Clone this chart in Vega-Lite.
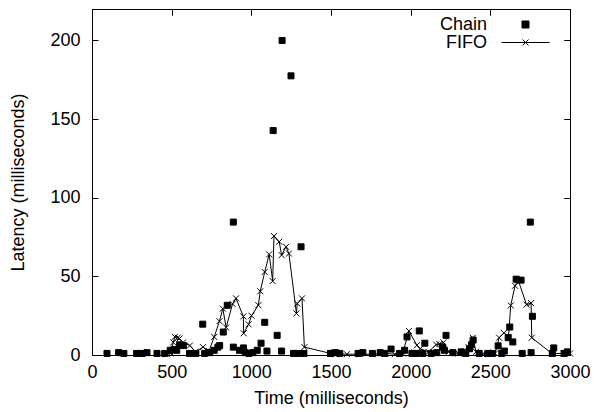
{
  "$schema": "https://vega.github.io/schema/vega-lite/v6.json",
  "width": 478,
  "height": 346,
  "autosize": "none",
  "padding": {"left": 92, "top": 9, "right": 24, "bottom": 57},
  "background": "white",
  "config": {
    "font": "Liberation Sans",
    "view": {"stroke": "black", "strokeWidth": 1},
    "axis": {
      "grid": false,
      "domainColor": "black",
      "tickColor": "black",
      "labelColor": "black",
      "titleColor": "black",
      "labelFont": "Liberation Sans",
      "titleFont": "Liberation Sans",
      "labelFontSize": 18,
      "titleFontSize": 18,
      "titleFontWeight": "normal",
      "labelFlush": false,
      "tickSize": -6
    },
    "legend": {
      "title": null,
      "orient": "none",
      "padding": 0,
      "rowPadding": 0,
      "labelFont": "Liberation Sans",
      "labelFontSize": 18,
      "labelColor": "black",
      "labelAlign": "right",
      "labelOffset": -48,
      "symbolSize": 324,
      "symbolStrokeWidth": 1
    }
  },
  "datasets": {
    "d": [
      {"t": 470, "v": 0.5, "s": "FIFO"},
      {"t": 491, "v": 1, "s": "FIFO"},
      {"t": 510, "v": 8, "s": "FIFO"},
      {"t": 520, "v": 11.5, "s": "FIFO"},
      {"t": 538, "v": 11, "s": "FIFO"},
      {"t": 549, "v": 10.5, "s": "FIFO"},
      {"t": 572, "v": 8, "s": "FIFO"},
      {"t": 614, "v": 6, "s": "FIFO"},
      {"t": 650, "v": 2, "s": "FIFO"},
      {"t": 697, "v": 5, "s": "FIFO"},
      {"t": 734, "v": 2.5, "s": "FIFO"},
      {"t": 767, "v": 11.5, "s": "FIFO"},
      {"t": 800, "v": 21.5, "s": "FIFO"},
      {"t": 821, "v": 29.5, "s": "FIFO"},
      {"t": 842, "v": 17.5, "s": "FIFO"},
      {"t": 882, "v": 32.5, "s": "FIFO"},
      {"t": 904, "v": 36, "s": "FIFO"},
      {"t": 950, "v": 24.5, "s": "FIFO"},
      {"t": 952, "v": 13.8, "s": "FIFO"},
      {"t": 983, "v": 19.5, "s": "FIFO"},
      {"t": 1001, "v": 25, "s": "FIFO"},
      {"t": 1044, "v": 31.7, "s": "FIFO"},
      {"t": 1056, "v": 40.5, "s": "FIFO"},
      {"t": 1084, "v": 52.8, "s": "FIFO"},
      {"t": 1112, "v": 64, "s": "FIFO"},
      {"t": 1134, "v": 47, "s": "FIFO"},
      {"t": 1142, "v": 75.6, "s": "FIFO"},
      {"t": 1175, "v": 72, "s": "FIFO"},
      {"t": 1190, "v": 63.5, "s": "FIFO"},
      {"t": 1218, "v": 68.8, "s": "FIFO"},
      {"t": 1236, "v": 64.5, "s": "FIFO"},
      {"t": 1283, "v": 26.4, "s": "FIFO"},
      {"t": 1288, "v": 32.7, "s": "FIFO"},
      {"t": 1318, "v": 36, "s": "FIFO"},
      {"t": 1333, "v": 5, "s": "FIFO"},
      {"t": 1498, "v": 1, "s": "FIFO"},
      {"t": 1530, "v": 0.5, "s": "FIFO"},
      {"t": 1600, "v": 0.5, "s": "FIFO"},
      {"t": 1680, "v": 0.5, "s": "FIFO"},
      {"t": 1760, "v": 0.5, "s": "FIFO"},
      {"t": 1840, "v": 1, "s": "FIFO"},
      {"t": 1900, "v": 0.5, "s": "FIFO"},
      {"t": 1950, "v": 1, "s": "FIFO"},
      {"t": 1989, "v": 15.3, "s": "FIFO"},
      {"t": 2039, "v": 6.2, "s": "FIFO"},
      {"t": 2060, "v": 4, "s": "FIFO"},
      {"t": 2112, "v": 2, "s": "FIFO"},
      {"t": 2160, "v": 6.6, "s": "FIFO"},
      {"t": 2180, "v": 7, "s": "FIFO"},
      {"t": 2206, "v": 8, "s": "FIFO"},
      {"t": 2240, "v": 2, "s": "FIFO"},
      {"t": 2300, "v": 1, "s": "FIFO"},
      {"t": 2363, "v": 5, "s": "FIFO"},
      {"t": 2390, "v": 11, "s": "FIFO"},
      {"t": 2410, "v": 2, "s": "FIFO"},
      {"t": 2450, "v": 0.5, "s": "FIFO"},
      {"t": 2530, "v": 1, "s": "FIFO"},
      {"t": 2555, "v": 11, "s": "FIFO"},
      {"t": 2585, "v": 14, "s": "FIFO"},
      {"t": 2614, "v": 11.5, "s": "FIFO"},
      {"t": 2628, "v": 31.5, "s": "FIFO"},
      {"t": 2655, "v": 44, "s": "FIFO"},
      {"t": 2675, "v": 47.6, "s": "FIFO"},
      {"t": 2727, "v": 32, "s": "FIFO"},
      {"t": 2756, "v": 33, "s": "FIFO"},
      {"t": 2760, "v": 11, "s": "FIFO"},
      {"t": 2886, "v": 1, "s": "FIFO"},
      {"t": 2960, "v": 1, "s": "FIFO"},
      {"t": 3000, "v": 1, "s": "FIFO"},
      {"t": 94, "v": 1, "s": "Chain"},
      {"t": 167, "v": 1.5, "s": "Chain"},
      {"t": 200, "v": 1, "s": "Chain"},
      {"t": 280, "v": 1, "s": "Chain"},
      {"t": 314, "v": 1, "s": "Chain"},
      {"t": 345, "v": 1.5, "s": "Chain"},
      {"t": 408, "v": 1, "s": "Chain"},
      {"t": 456, "v": 1, "s": "Chain"},
      {"t": 491, "v": 3, "s": "Chain"},
      {"t": 515, "v": 3.5, "s": "Chain"},
      {"t": 532, "v": 3, "s": "Chain"},
      {"t": 550, "v": 6.5, "s": "Chain"},
      {"t": 574, "v": 6, "s": "Chain"},
      {"t": 612, "v": 1, "s": "Chain"},
      {"t": 652, "v": 1, "s": "Chain"},
      {"t": 695, "v": 19.6, "s": "Chain"},
      {"t": 707, "v": 1, "s": "Chain"},
      {"t": 738, "v": 1.5, "s": "Chain"},
      {"t": 767, "v": 3, "s": "Chain"},
      {"t": 790, "v": 5, "s": "Chain"},
      {"t": 801, "v": 6, "s": "Chain"},
      {"t": 824, "v": 14.6, "s": "Chain"},
      {"t": 849, "v": 31.6, "s": "Chain"},
      {"t": 887, "v": 84.5, "s": "Chain"},
      {"t": 887, "v": 5, "s": "Chain"},
      {"t": 926, "v": 3, "s": "Chain"},
      {"t": 951, "v": 4.5, "s": "Chain"},
      {"t": 962, "v": 1.5, "s": "Chain"},
      {"t": 985, "v": 1, "s": "Chain"},
      {"t": 1010, "v": 1.5, "s": "Chain"},
      {"t": 1037, "v": 3, "s": "Chain"},
      {"t": 1061, "v": 7.5, "s": "Chain"},
      {"t": 1084, "v": 20.8, "s": "Chain"},
      {"t": 1098, "v": 2.5, "s": "Chain"},
      {"t": 1137, "v": 142.7, "s": "Chain"},
      {"t": 1162, "v": 12.5, "s": "Chain"},
      {"t": 1190, "v": 2.5, "s": "Chain"},
      {"t": 1193, "v": 200, "s": "Chain"},
      {"t": 1249, "v": 177.5, "s": "Chain"},
      {"t": 1265, "v": 1, "s": "Chain"},
      {"t": 1290, "v": 1, "s": "Chain"},
      {"t": 1312, "v": 68.8, "s": "Chain"},
      {"t": 1330, "v": 1, "s": "Chain"},
      {"t": 1497, "v": 1, "s": "Chain"},
      {"t": 1528, "v": 1.5, "s": "Chain"},
      {"t": 1555, "v": 1, "s": "Chain"},
      {"t": 1670, "v": 1, "s": "Chain"},
      {"t": 1700, "v": 1.5, "s": "Chain"},
      {"t": 1760, "v": 1, "s": "Chain"},
      {"t": 1809, "v": 1.5, "s": "Chain"},
      {"t": 1837, "v": 1, "s": "Chain"},
      {"t": 1877, "v": 3.8, "s": "Chain"},
      {"t": 1930, "v": 1, "s": "Chain"},
      {"t": 1962, "v": 3, "s": "Chain"},
      {"t": 1977, "v": 11.5, "s": "Chain"},
      {"t": 2008, "v": 1, "s": "Chain"},
      {"t": 2035, "v": 1, "s": "Chain"},
      {"t": 2054, "v": 15.3, "s": "Chain"},
      {"t": 2076, "v": 1, "s": "Chain"},
      {"t": 2089, "v": 7.5, "s": "Chain"},
      {"t": 2129, "v": 1, "s": "Chain"},
      {"t": 2164, "v": 1.5, "s": "Chain"},
      {"t": 2200, "v": 5, "s": "Chain"},
      {"t": 2212, "v": 3, "s": "Chain"},
      {"t": 2222, "v": 12.5, "s": "Chain"},
      {"t": 2265, "v": 1.5, "s": "Chain"},
      {"t": 2317, "v": 2, "s": "Chain"},
      {"t": 2346, "v": 1, "s": "Chain"},
      {"t": 2370, "v": 4, "s": "Chain"},
      {"t": 2382, "v": 6.5, "s": "Chain"},
      {"t": 2392, "v": 9.5, "s": "Chain"},
      {"t": 2430, "v": 1, "s": "Chain"},
      {"t": 2484, "v": 1, "s": "Chain"},
      {"t": 2513, "v": 1, "s": "Chain"},
      {"t": 2549, "v": 5.8, "s": "Chain"},
      {"t": 2572, "v": 1, "s": "Chain"},
      {"t": 2588, "v": 2.5, "s": "Chain"},
      {"t": 2612, "v": 11, "s": "Chain"},
      {"t": 2622, "v": 17.8, "s": "Chain"},
      {"t": 2641, "v": 8.3, "s": "Chain"},
      {"t": 2662, "v": 48.2, "s": "Chain"},
      {"t": 2693, "v": 47.6, "s": "Chain"},
      {"t": 2700, "v": 1, "s": "Chain"},
      {"t": 2751, "v": 84.5, "s": "Chain"},
      {"t": 2756, "v": 1.5, "s": "Chain"},
      {"t": 2764, "v": 24.6, "s": "Chain"},
      {"t": 2889, "v": 1, "s": "Chain"},
      {"t": 2898, "v": 4.5, "s": "Chain"},
      {"t": 2963, "v": 1, "s": "Chain"},
      {"t": 2984, "v": 2, "s": "Chain"}
    ]
  },
  "data": {"name": "d"},
  "layer": [
    {
      "transform": [{"filter": "datum.s === 'FIFO'"}],
      "mark": {"type": "line", "strokeWidth": 1},
      "encoding": {
        "x": {"field": "t", "type": "quantitative", "scale": {"domain": [0, 3000], "nice": false},
              "axis": {"orient": "top", "labels": false, "title": null, "values": [0, 500, 1000, 1500, 2000, 2500, 3000]}},
        "y": {"field": "v", "type": "quantitative", "scale": {"domain": [0, 220], "nice": false},
              "axis": {"orient": "right", "labels": false, "title": null, "values": [0, 50, 100, 150, 200]}},
        "color": {"field": "s", "type": "nominal", "scale": {"domain": ["FIFO"], "range": ["black"]},
                  "legend": {"legendX": 424, "legendY": 24, "symbolType": "M-2.67,0H2.67M-0.33,-0.33L0.33,0.33M-0.33,0.33L0.33,-0.33"}}
      }
    },
    {
      "transform": [{"filter": "datum.s === 'FIFO'"}],
      "mark": {"type": "point", "shape": "M-1,-1L1,1M-1,1L1,-1", "size": 36, "stroke": "black", "strokeWidth": 1, "opacity": 1},
      "encoding": {
        "x": {"field": "t", "type": "quantitative", "scale": {"domain": [0, 3000], "nice": false},
              "axis": {"orient": "top", "labels": false, "title": null, "values": [0, 500, 1000, 1500, 2000, 2500, 3000]}},
        "y": {"field": "v", "type": "quantitative", "scale": {"domain": [0, 220], "nice": false},
              "axis": {"orient": "right", "labels": false, "title": null, "values": [0, 50, 100, 150, 200]}}
      }
    },
    {
      "transform": [{"filter": "datum.s === 'Chain'"}],
      "mark": {"type": "point", "shape": "square", "size": 36, "filled": true, "strokeWidth": 1, "opacity": 1},
      "encoding": {
        "x": {"field": "t", "type": "quantitative", "scale": {"domain": [0, 3000], "nice": false},
              "axis": {"orient": "bottom", "title": "Time (milliseconds)", "format": "d", "values": [0, 500, 1000, 1500, 2000, 2500, 3000], "labelPadding": 14, "titlePadding": 8}},
        "y": {"field": "v", "type": "quantitative", "scale": {"domain": [0, 220], "nice": false},
              "axis": {"orient": "left", "title": "Latency (milliseconds)", "format": "d", "values": [0, 50, 100, 150, 200], "labelPadding": 18, "titlePadding": 22}},
        "color": {"field": "s", "type": "nominal", "scale": {"domain": ["Chain"], "range": ["black"]},
                  "legend": {"legendX": 424, "legendY": 6, "symbolType": "M-0.39,-0.39H0.39V0.39H-0.39Z"}},
        "stroke": {"value": "black"}
      }
    }
  ],
  "resolve": {"axis": {"x": "independent", "y": "independent"}, "scale": {"color": "independent"}}
}
